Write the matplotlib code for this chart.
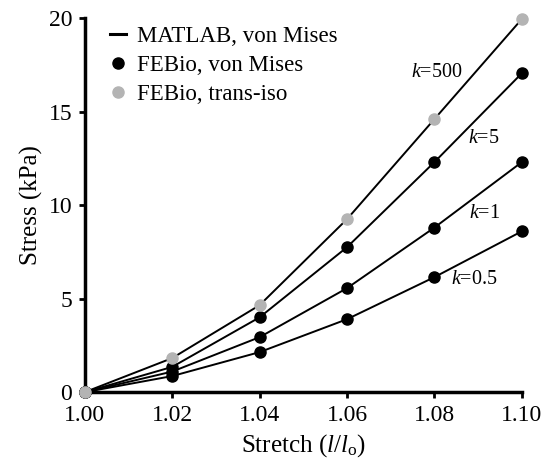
import numpy as np
import matplotlib.pyplot as plt

plt.rcParams['font.family'] = ['Liberation Serif', 'DejaVu Serif']
plt.rcParams['mathtext.fontset'] = 'custom'
plt.rcParams['mathtext.rm'] = 'Liberation Serif'
plt.rcParams['mathtext.it'] = 'Liberation Serif:italic'

# Stretch values
stretch = [1.00, 1.02, 1.04, 1.06, 1.08, 1.10]

# Stress (kPa) for each k value
k500 = [0.0, 1.82, 4.65, 9.25, 14.6, 19.95]
k5 = [0.0, 1.35, 4.0, 7.75, 12.3, 17.05]
k1 = [0.0, 1.1, 2.94, 5.56, 8.8, 12.3]
k05 = [0.0, 0.86, 2.14, 3.9, 6.15, 8.6]

labels = ['$k$=500', '$k$=5', '$k$=1', '$k$=0.5']
label_pos = [(1.0746, 17.1), (1.0876, 13.57), (1.0878, 9.57), (1.0837, 6.0)]

fig = plt.figure(figsize=(5.54, 4.63), dpi=100)
ax = fig.add_axes([0.153, 0.153, 0.789, 0.808])

for ys in [k500, k5, k1, k05]:
    ax.plot(stretch, ys, color='black', lw=1.4, zorder=2, clip_on=False)

for ys in [k5, k1, k05]:
    ax.plot(stretch, ys, 'o', color='black', ms=8, zorder=3, clip_on=False)
ax.plot(stretch, k500, 'o', color='#b4b4b4', ms=8, zorder=4, clip_on=False)

for lab, (x, y) in zip(labels, label_pos):
    ax.text(x, y, lab, fontsize=14.5, ha='left', va='center')

# legend handles
ax.plot([], [], color='black', lw=2.2, label='MATLAB, von Mises')
ax.plot([], [], 'o', color='black', ms=8, label='FEBio, von Mises')
ax.plot([], [], 'o', color='#b4b4b4', ms=8, label='FEBio, trans-iso')
handles, leg_labels = ax.get_legend_handles_labels()
ax.legend(handles[-3:], leg_labels[-3:], loc='upper left', frameon=False,
          fontsize=16.5, handlelength=0.7, handletextpad=0.5,
          labelspacing=0.35, bbox_to_anchor=(0.01, 1.035))

ax.set_xlim(1.0, 1.1)
ax.set_ylim(0, 20)
ax.set_xticks([1.00, 1.02, 1.04, 1.06, 1.08, 1.10])
ax.set_xticklabels(['1.00', '1.02', '1.04', '1.06', '1.08', '1.10'])
ax.set_yticks([0, 5, 10, 15, 20])

for s in ['top', 'right']:
    ax.spines[s].set_visible(False)
for s in ['left', 'bottom']:
    ax.spines[s].set_linewidth(2.5)
ax.tick_params(direction='out', length=4, width=2, labelsize=17, pad=5)

ax.set_xlabel('Stretch ($l$/$l_\\mathrm{o}$)', fontsize=18, labelpad=5)
ax.set_ylabel('Stress (kPa)', fontsize=18, labelpad=4)

plt.savefig('out.png', dpi=100)
